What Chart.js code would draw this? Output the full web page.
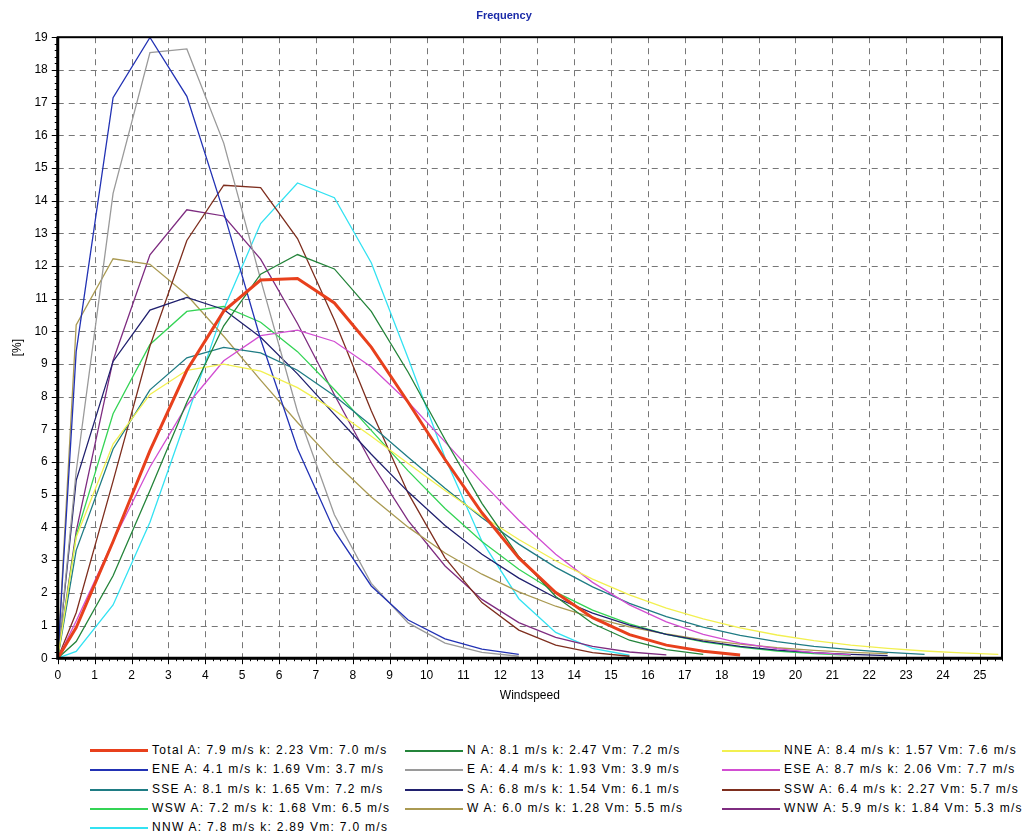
<!DOCTYPE html>
<html>
<head>
<meta charset="utf-8">
<script src="https://cdn.jsdelivr.net/npm/chart.js@4/dist/chart.umd.min.js"></script>
<style>
  body { margin: 0; background: #fff; font-family: "Liberation Sans", Arial, sans-serif; }
  #wrap { position: relative; width: 1030px; height: 836px; }
  #box { position: absolute; left: 0; top: 0; width: 1030px; height: 707px; }
  #legend { position: absolute; left: 0; top: 741px; width: 1030px; }
  .item { position: absolute; height: 19px; font-size: 12px; letter-spacing: 1.3px; color: #000; white-space: nowrap; line-height: 19px; }
  .item .sw { display: inline-block; width: 58px; vertical-align: middle; margin-right: 4px; }
</style>
</head>
<body>
<div id="wrap">
  <div id="box"><canvas id="chart"></canvas></div>
  <div id="legend"></div>
</div>
<script>
// wind speed bin centres (m/s), first point is the origin
const speeds = [0, 0.5, 1.5, 2.5, 3.5, 4.5, 5.5, 6.5, 7.5, 8.5, 9.5, 10.5, 11.5, 12.5,
  13.5, 14.5, 15.5, 16.5, 17.5, 18.5, 19.5, 20.5, 21.5, 22.5, 23.5, 24.5, 25.5];
const xTicks = [0, 1, 2, 3, 4, 5, 6, 7, 8, 9, 10, 11, 12, 13, 14, 15, 16, 17, 18, 19, 20, 21, 22, 23, 24, 25];

const sectors = ['Total', 'N', 'NNE', 'ENE', 'E', 'ESE', 'SSE', 'S', 'SSW', 'WSW', 'W', 'WNW', 'NNW'];
const aValues = ['7.9', '8.1', '8.4', '4.1', '4.4', '8.7', '8.1', '6.8', '6.4', '7.2', '6.0', '5.9', '7.8'];
const kValues = ['2.23', '2.47', '1.57', '1.69', '1.93', '2.06', '1.65', '1.54', '2.27', '1.68', '1.28', '1.84', '2.89'];
const vmValues = ['7.0', '7.2', '7.6', '3.7', '3.9', '7.7', '7.2', '6.1', '5.7', '6.5', '5.5', '5.3', '7.0'];

// frequency [%] per bin
const total = [0, 0.94, 3.57, 6.35, 8.81, 10.62, 11.57, 11.62, 10.87, 9.52, 7.83, 6.08, 4.45, 3.07, 2.01, 1.24, 0.72, 0.40, 0.21, 0.10];
const north = [0, 0.51, 2.52, 5.13, 7.83, 10.17, 11.75, 12.35, 11.91, 10.61, 8.75, 6.69, 4.74, 3.11, 1.89, 1.06, 0.55, 0.26, 0.12];
const nne = [0, 3.70, 6.55, 8.07, 8.81, 9.00, 8.78, 8.28, 7.59, 6.79, 5.96, 5.13, 4.35, 3.63, 2.98, 2.42, 1.94, 1.53, 1.20, 0.93, 0.71, 0.54, 0.40, 0.30, 0.22, 0.16, 0.12];
const ene = [0, 9.38, 17.15, 18.99, 17.19, 13.64, 9.76, 6.41, 3.90, 2.21, 1.17, 0.59, 0.28, 0.12];
const east = [0, 5.72, 14.22, 18.53, 18.64, 15.76, 11.59, 7.54, 4.39, 2.29, 1.08, 0.46, 0.18, 0.06];
const ese = [0, 1.14, 3.58, 5.85, 7.74, 9.10, 9.87, 10.04, 9.69, 8.91, 7.84, 6.62, 5.38, 4.22, 3.18, 2.32, 1.63, 1.11, 0.73, 0.46, 0.29, 0.17, 0.10];
const sse = [0, 3.30, 6.40, 8.21, 9.19, 9.51, 9.34, 8.81, 8.03, 7.12, 6.15, 5.20, 4.30, 3.49, 2.78, 2.18, 1.68, 1.27, 0.95, 0.70, 0.51, 0.36, 0.26, 0.18, 0.12];
const south = [0, 5.44, 9.08, 10.65, 11.04, 10.67, 9.82, 8.70, 7.46, 6.24, 5.09, 4.06, 3.18, 2.45, 1.85, 1.38, 1.01, 0.73, 0.52, 0.36, 0.25, 0.17, 0.12, 0.08];
const ssw = [0, 1.39, 5.42, 9.55, 12.78, 14.47, 14.40, 12.84, 10.35, 7.57, 5.05, 3.07, 1.70, 0.86, 0.40, 0.17, 0.06];
const wsw = [0, 3.76, 7.48, 9.60, 10.61, 10.76, 10.28, 9.38, 8.22, 6.97, 5.73, 4.58, 3.57, 2.72, 2.02, 1.47, 1.05, 0.73, 0.50, 0.34, 0.22, 0.14, 0.09];
const west = [0, 10.20, 12.22, 12.05, 11.11, 9.85, 8.51, 7.21, 6.00, 4.93, 4.01, 3.22, 2.57, 2.03, 1.59, 1.24, 0.96, 0.74, 0.56, 0.43, 0.32, 0.24, 0.18, 0.14];
const wnw = [0, 3.88, 9.11, 12.34, 13.72, 13.53, 12.21, 10.24, 8.06, 5.98, 4.21, 2.82, 1.80, 1.09, 0.64, 0.36, 0.19, 0.10];
const nnw = [0, 0.21, 1.63, 4.16, 7.38, 10.68, 13.30, 14.54, 14.09, 12.10, 9.18, 6.13, 3.58, 1.82, 0.79, 0.30, 0.09];

const seriesValues = [total, north, nne, ene, east, ese, sse, south, ssw, wsw, west, wnw, nnw];
const colors = ['#e8401c', '#24843a', '#f2f050', '#2232b4', '#9a9a9a', '#d24ed2', '#1f7c84', '#20206e',
  '#7e2e1e', '#34d455', '#aa9a52', '#7e2c80', '#33e2f2'];

const datasets = seriesValues.map((vals, i) => ({
  label: `${sectors[i]} A: ${aValues[i]} m/s k: ${kValues[i]} Vm: ${vmValues[i]} m/s`,
  data: vals.map((v, j) => ({ x: speeds[j], y: v })),
  borderColor: colors[i],
  backgroundColor: colors[i],
  borderWidth: i === 0 ? 3 : 1.3,
  pointRadius: 0,
  tension: 0,
  fill: false,
}));

// dashed grid under the lines
const gridPlugin = {
  id: 'dashgrid',
  beforeDatasetsDraw(chart) {
    const { ctx, chartArea: a, scales } = chart;
    ctx.save();
    ctx.strokeStyle = '#777';
    ctx.lineWidth = 1;
    ctx.setLineDash([6, 5]);
    ctx.beginPath();
    scales.x.ticks.forEach((t) => {
      const px = Math.round(scales.x.getPixelForValue(t.value)) + 0.5;
      ctx.moveTo(px, a.top);
      ctx.lineTo(px, a.bottom);
    });
    scales.y.ticks.forEach((t) => {
      const py = Math.round(scales.y.getPixelForValue(t.value)) + 0.5;
      ctx.moveTo(a.left, py);
      ctx.lineTo(a.right, py);
    });
    ctx.stroke();
    ctx.restore();
  },
};

// plot frame, major and minor ticks
const framePlugin = {
  id: 'frame',
  afterDraw(chart) {
    const { ctx, chartArea: a, scales } = chart;
    ctx.save();
    ctx.strokeStyle = '#000';
    ctx.lineWidth = 1;
    ctx.beginPath();
    for (let v = 0; v <= 25.6; v += 0.2) {
      const px = Math.round(scales.x.getPixelForValue(v)) + 0.5;
      ctx.moveTo(px, a.bottom);
      ctx.lineTo(px, a.bottom + 3);
    }
    for (let v = 0; v <= 19; v += 0.2) {
      const py = Math.round(scales.y.getPixelForValue(v)) + 0.5;
      ctx.moveTo(a.left - 3, py);
      ctx.lineTo(a.left, py);
    }
    scales.x.ticks.forEach((t) => {
      const px = Math.round(scales.x.getPixelForValue(t.value)) + 0.5;
      ctx.moveTo(px, a.bottom);
      ctx.lineTo(px, a.bottom + 6);
    });
    scales.y.ticks.forEach((t) => {
      const py = Math.round(scales.y.getPixelForValue(t.value)) + 0.5;
      ctx.moveTo(a.left - 6, py);
      ctx.lineTo(a.left, py);
    });
    ctx.stroke();
    ctx.lineWidth = 2;
    ctx.strokeRect(a.left, a.top, a.right - a.left, a.bottom - a.top);
    ctx.lineWidth = 3;
    ctx.beginPath();
    ctx.moveTo(a.left, a.top);
    ctx.lineTo(a.left, a.bottom);
    ctx.lineTo(a.right, a.bottom);
    ctx.stroke();
    ctx.restore();
  },
};

const tickFont = { family: 'Liberation Sans', size: 12 };

const chart = new Chart(document.getElementById('chart'), {
  type: 'line',
  data: { datasets },
  options: {
    responsive: true,
    maintainAspectRatio: false,
    animation: false,
    layout: { padding: { left: 6, right: 28, top: 0, bottom: 0 } },
    scales: {
      x: {
        type: 'linear',
        min: 0,
        max: 25.6,
        afterBuildTicks: (axis) => {
          axis.ticks = xTicks.map((v) => ({ value: v }));
        },
        ticks: { color: '#000', font: tickFont, maxRotation: 0, padding: 4, autoSkip: false },
        grid: { display: false, drawTicks: true, tickLength: 6 },
        border: { display: false },
        title: { display: true, text: 'Windspeed', color: '#000', font: tickFont, padding: { top: 2 } },
      },
      y: {
        min: 0,
        max: 19,
        ticks: { stepSize: 1, color: '#000', font: tickFont, padding: 4 },
        grid: { display: false, drawTicks: true, tickLength: 6 },
        border: { display: false },
        title: { display: true, text: '[%]', color: '#000', font: tickFont, padding: { bottom: 6 } },
      },
    },
    plugins: {
      legend: { display: false },
      tooltip: { enabled: false },
      title: {
        display: true,
        text: 'Frequency',
        color: '#1a2aa8',
        font: { family: 'Liberation Sans', size: 11 },
        padding: { top: 9, bottom: 15 },
      },
    },
  },
  plugins: [gridPlugin, framePlugin],
});

// legend in three columns, same order as the datasets
const colLeft = [90, 405, 722];
const legend = document.getElementById('legend');
chart.data.datasets.forEach((ds, i) => {
  const div = document.createElement('div');
  div.className = 'item';
  div.style.left = colLeft[i % 3] + 'px';
  div.style.top = Math.round(Math.floor(i / 3) * 19.3) + 'px';
  div.innerHTML = `<span class="sw" style="border-top:${i === 0 ? 3 : 2}px solid ${ds.borderColor}"></span>${ds.label}`;
  legend.appendChild(div);
});
</script>
</body>
</html>
